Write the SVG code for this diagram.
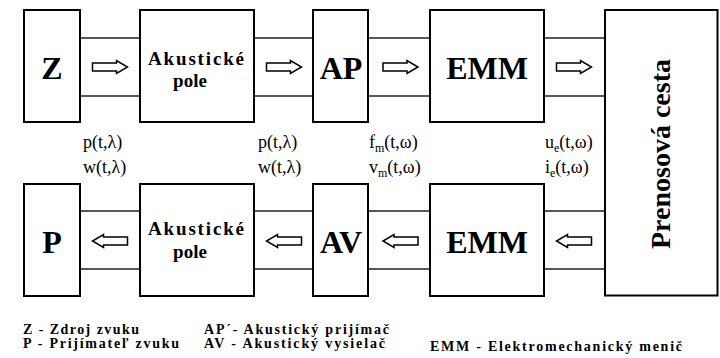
<svg xmlns="http://www.w3.org/2000/svg" width="720" height="358" viewBox="0 0 720 358">
<style>
.box{fill:#fff;stroke:#000;stroke-width:2}
.ln{stroke:#222;stroke-width:1.5;fill:none}
.arr{fill:#fff;stroke:#000;stroke-width:1.5;stroke-linejoin:miter}
text{font-family:"Liberation Serif","Times New Roman",Times,Tinos,"Noto Serif","DejaVu Serif",serif}
.big{font-weight:bold;font-size:32px;text-anchor:middle}
.mid{font-weight:bold;font-size:19px;text-anchor:middle}
.lab{font-size:18px}
.sub{font-size:12px}
.leg{font-weight:bold;font-size:14px}
</style>
<defs>
<path id="ar" d="M-17.5,-4 H6.5 V-6.5 L17.5,0 L6.5,6.5 V4 H-17.5 Z"/>
</defs>
<rect width="720" height="358" fill="#fff"/>
<g id="connectors">
<path class="ln" d="M80,38H140M80,96H140M254,38H313M254,96H313M368,38H430M368,96H430M544,38H605M544,96H605"/>
<path class="ln" d="M80,211H140M80,269H140M254,211H313M254,269H313M368,211H430M368,269H430M544,211H605M544,269H605"/>
<use href="#ar" class="arr" transform="translate(110,67)"/>
<use href="#ar" class="arr" transform="translate(284,67)"/>
<use href="#ar" class="arr" transform="translate(400.5,67)"/>
<use href="#ar" class="arr" transform="translate(574,67)"/>
<use href="#ar" class="arr" transform="translate(110,241) scale(-1,1)"/>
<use href="#ar" class="arr" transform="translate(284,241) scale(-1,1)"/>
<use href="#ar" class="arr" transform="translate(400.5,241) scale(-1,1)"/>
<use href="#ar" class="arr" transform="translate(574,241) scale(-1,1)"/>
</g>
<g id="Z"><rect class="box" x="24" y="10" width="56" height="112"/><text class="big" x="52" y="79">Z</text></g>
<g id="AkP1"><rect class="box" x="140" y="10" width="114" height="112"/><text class="mid" x="196" y="64.5" textLength="96" lengthAdjust="spacing">Akustické</text><text class="mid" x="190" y="87">pole</text></g>
<g id="AP"><rect class="box" x="313" y="10" width="55" height="112"/><text class="big" x="341" y="79">AP</text></g>
<g id="EMM1"><rect class="box" x="430" y="10" width="114" height="112"/><text class="big" x="487" y="79">EMM</text></g>
<g id="PC"><rect class="box" x="605" y="10" width="112.5" height="285.5"/><text class="big" style="font-size:28px" transform="translate(670,154) rotate(-90)">Prenosová cesta</text></g>
<g id="P"><rect class="box" x="24" y="184" width="56" height="112"/><text class="big" x="52" y="252.5">P</text></g>
<g id="AkP2"><rect class="box" x="140" y="184" width="114" height="112"/><text class="mid" x="196" y="235" textLength="96" lengthAdjust="spacing">Akustické</text><text class="mid" x="190" y="258">pole</text></g>
<g id="AV"><rect class="box" x="313" y="184" width="55" height="112"/><text class="big" x="341" y="252.5">AV</text></g>
<g id="EMM2"><rect class="box" x="430" y="184" width="114" height="112"/><text class="big" x="487" y="252.5">EMM</text></g>
<g id="labels">
<text class="lab" x="83" y="148">p(t,λ)</text>
<text class="lab" x="83" y="173">w(t,λ)</text>
<text class="lab" x="258" y="148">p(t,λ)</text>
<text class="lab" x="258" y="173">w(t,λ)</text>
<text class="lab" x="369" y="148">f<tspan class="sub" dy="4">m</tspan><tspan dy="-4">(t,ω)</tspan></text>
<text class="lab" x="369" y="173">v<tspan class="sub" dy="4">m</tspan><tspan dy="-4">(t,ω)</tspan></text>
<text class="lab" x="545" y="148">u<tspan class="sub" dy="4">e</tspan><tspan dy="-4">(t,ω)</tspan></text>
<text class="lab" x="545" y="173">i<tspan class="sub" dy="4">e</tspan><tspan dy="-4">(t,ω)</tspan></text>
</g>
<g id="legend">
<text class="leg" x="23" y="333.5" textLength="116" lengthAdjust="spacing">Z - Zdroj zvuku</text>
<text class="leg" x="23" y="348" textLength="156" lengthAdjust="spacing">P - Prijímateľ zvuku</text>
<text class="leg" x="204" y="333.5" textLength="185" lengthAdjust="spacing">AP´- Akustický prijímač</text>
<text class="leg" x="204" y="348" textLength="181" lengthAdjust="spacing">AV - Akustický vysielač</text>
<text class="leg" x="430" y="351" textLength="252" lengthAdjust="spacing">EMM - Elektromechanický menič</text>
</g>
</svg>
